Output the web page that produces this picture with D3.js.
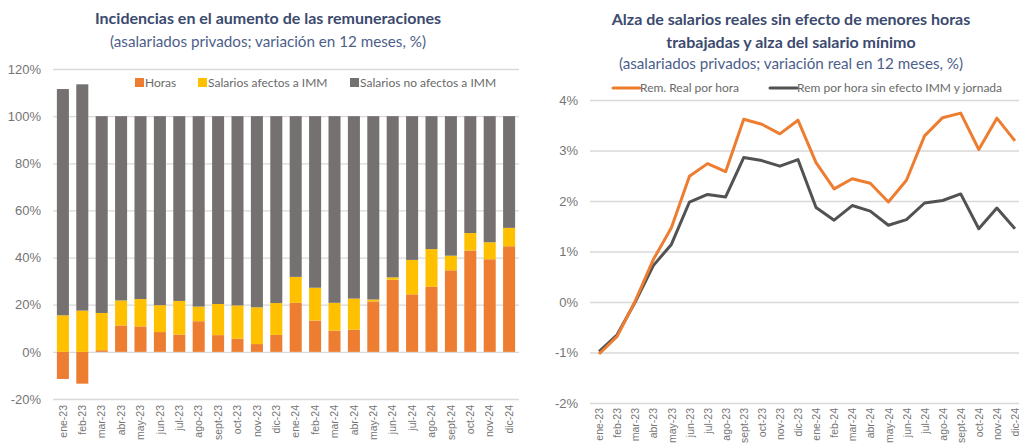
<!DOCTYPE html>
<html>
<head>
<meta charset="utf-8">
<script src="https://cdn.jsdelivr.net/npm/d3@7"></script>
<style>
  body { margin: 0; background: #fff; }
  svg { display: block; font-family: Lato, "Open Sans", sans-serif; }
  .title { font-weight: bold; fill: #3b4a6e; font-size: 16px; }
  .subtitle { fill: #4d5e8a; font-size: 15.2px; }
  .tick text { fill: #757575; }
  .legend text { fill: #6a6a6a; font-size: 12px; }
</style>
</head>
<body>
<svg id="chart" width="1019" height="443"></svg>
<script>
// months shared by both charts
var months = ['ene-23','feb-23','mar-23','abr-23','may-23','jun-23','jul-23','ago-23','sept-23','oct-23','nov-23','dic-23',
              'ene-24','feb-24','mar-24','abr-24','may-24','jun-24','jul-24','ago-24','sept-24','oct-24','nov-24','dic-24'];

// left chart: incidencias (%)
var horas      = [-11.5, -13.5, 0.7, 11.2, 10.8, 8.4, 7.3, 13.0, 7.1, 5.6, 3.3, 7.2, 20.8, 13.3, 9.0, 9.4, 21.4, 30.6, 24.4, 27.6, 34.6, 43.0, 39.3, 44.8];
var afectosImm = [15.5, 17.5, 15.8, 10.6, 11.6, 11.4, 14.3, 6.2, 13.2, 14.1, 15.6, 13.5, 11.0, 13.9, 11.8, 13.2, 0.8, 1.0, 14.6, 16.0, 6.2, 7.4, 7.2, 7.8];
var noAfectos  = [96.0, 96.0, 83.5, 78.2, 77.6, 80.2, 78.4, 80.8, 79.7, 80.3, 81.1, 79.3, 68.2, 72.8, 79.2, 77.4, 77.8, 68.4, 61.0, 56.4, 59.2, 49.6, 53.5, 47.4];
var leftTicks = [-20, 0, 20, 40, 60, 80, 100, 120];

// right chart: variacion real en 12 meses (%)
var remReal   = [-1.03, -0.68, 0.02, 0.84, 1.47, 2.49, 2.74, 2.58, 3.62, 3.52, 3.33, 3.60, 2.76, 2.24, 2.44, 2.35, 1.98, 2.41, 3.29, 3.65, 3.74, 3.02, 3.64, 3.19];
var remSinImm = [-0.98, -0.65, 0.0, 0.72, 1.14, 1.98, 2.13, 2.08, 2.86, 2.80, 2.69, 2.82, 1.87, 1.62, 1.91, 1.80, 1.52, 1.63, 1.96, 2.01, 2.14, 1.45, 1.86, 1.45];
var rightTicks = [-2, -1, 0, 1, 2, 3, 4];

var seriesBars = [
    {key: 'horas', label: 'Horas', color: '#ed7d31'},
    {key: 'imm', label: 'Salarios afectos a IMM', color: '#ffc000'},
    {key: 'noImm', label: 'Salarios no afectos a IMM', color: '#767171'}
];
var seriesLines = [
    {label: 'Rem. Real por hora', values: remReal, color: '#ed7d31'},
    {label: 'Rem por hora sin efecto IMM y jornada', values: remSinImm, color: '#525252'}
];

var svg = d3.select('#chart');
var gridColor = '#d9d9d9';

function draw_titles(cx, lines) {
    lines.forEach(function (l) {
        svg.append('text')
            .attr('class', l.bold ? 'title' : 'subtitle')
            .attr('x', cx).attr('y', l.y)
            .attr('text-anchor', 'middle')
            .text(l.text);
    });
}

function draw_x_labels(g, scale, y) {
    var axis = d3.axisBottom(scale).tickSize(0).tickPadding(0);
    var ax = g.append('g').attr('transform', 'translate(0,' + y + ')').call(axis);
    ax.select('.domain').remove();
    ax.selectAll('text')
        .style('font-size', '10.5px')
        .attr('text-anchor', 'end')
        .attr('x', 0).attr('y', 0)
        .attr('dx', 0).attr('dy', '0.35em')
        .attr('transform', 'rotate(-90)');
}

function draw_y_axis(g, scale, ticks, x0, x1) {
    var axis = d3.axisLeft(scale)
        .tickValues(ticks)
        .tickSize(-(x1 - x0))
        .tickPadding(12)
        .tickFormat(function (d) { return d + '%'; });
    var ax = g.append('g').attr('transform', 'translate(' + x0 + ',0)').call(axis);
    ax.select('.domain').remove();
    ax.selectAll('line').attr('stroke', gridColor).attr('stroke-width', 1.3);
    ax.selectAll('text').style('font-size', '13px');
}

// ---------- left chart ----------
function draw_bars() {
    var g = svg.append('g');
    var x = d3.scaleBand().domain(months).range([53, 519]).paddingInner(0.38).paddingOuter(0.2);
    var y = d3.scaleLinear().domain([-20, 120]).range([399, 69]);

    draw_y_axis(g, y, leftTicks, 53, 519);

    var rows = months.map(function (m, i) {
        return {month: m, horas: horas[i], imm: afectosImm[i], noImm: noAfectos[i]};
    });
    var stack = d3.stack()
        .keys(seriesBars.map(function (s) { return s.key; }))
        .offset(d3.stackOffsetDiverging);

    g.selectAll('.layer')
        .data(stack(rows))
        .enter().append('g')
        .attr('class', 'layer')
        .attr('fill', function (d, i) { return seriesBars[i].color; })
        .selectAll('rect')
        .data(function (d) { return d; })
        .enter().append('rect')
        .attr('x', function (d) { return x(d.data.month); })
        .attr('width', x.bandwidth())
        .attr('y', function (d) { return y(Math.max(d[0], d[1])); })
        .attr('height', function (d) { return Math.abs(y(d[0]) - y(d[1])); });

    draw_x_labels(g, x, 405);

    var legend = g.append('g').attr('class', 'legend');
    var lx = [135, 198, 350];
    seriesBars.forEach(function (s, i) {
        legend.append('rect').attr('x', lx[i]).attr('y', 78).attr('width', 9).attr('height', 9).attr('fill', s.color);
        legend.append('text').attr('x', lx[i] + 10).attr('y', 87).text(s.label);
    });

    draw_titles(268, [
        {text: 'Incidencias en el aumento de las remuneraciones', y: 24, bold: true},
        {text: '(asalariados privados; variación en 12 meses, %)', y: 47}
    ]);
}

// ---------- right chart ----------
function draw_lines() {
    var g = svg.append('g');
    var x = d3.scalePoint().domain(months).range([590, 1024]).padding(0.5);
    var y = d3.scaleLinear().domain([-2, 4]).range([403, 100]);

    draw_y_axis(g, y, rightTicks, 590, 1019);

    var line = d3.line()
        .x(function (d, i) { return x(months[i]); })
        .y(function (d) { return y(d); });

    seriesLines.slice().reverse().forEach(function (s) {
        g.append('path')
            .datum(s.values)
            .attr('fill', 'none')
            .attr('stroke', s.color)
            .attr('stroke-width', 3)
            .attr('stroke-linejoin', 'round')
            .attr('d', line);
    });

    draw_x_labels(g, x, 408);

    var legend = g.append('g').attr('class', 'legend');
    var lx = [613, 770];
    seriesLines.forEach(function (s, i) {
        legend.append('line')
            .attr('x1', lx[i]).attr('x2', lx[i] + 27)
            .attr('y1', 88).attr('y2', 88)
            .attr('stroke', s.color).attr('stroke-width', 3).attr('stroke-linecap', 'round');
        legend.append('text').attr('x', lx[i] + 27).attr('y', 92).text(s.label);
    });

    draw_titles(791, [
        {text: 'Alza de salarios reales sin efecto de menores horas', y: 25, bold: true},
        {text: 'trabajadas y alza del salario mínimo', y: 48, bold: true},
        {text: '(asalariados privados; variación real en 12 meses, %)', y: 69}
    ]);
}

draw_bars();
draw_lines();
</script>
</body>
</html>
